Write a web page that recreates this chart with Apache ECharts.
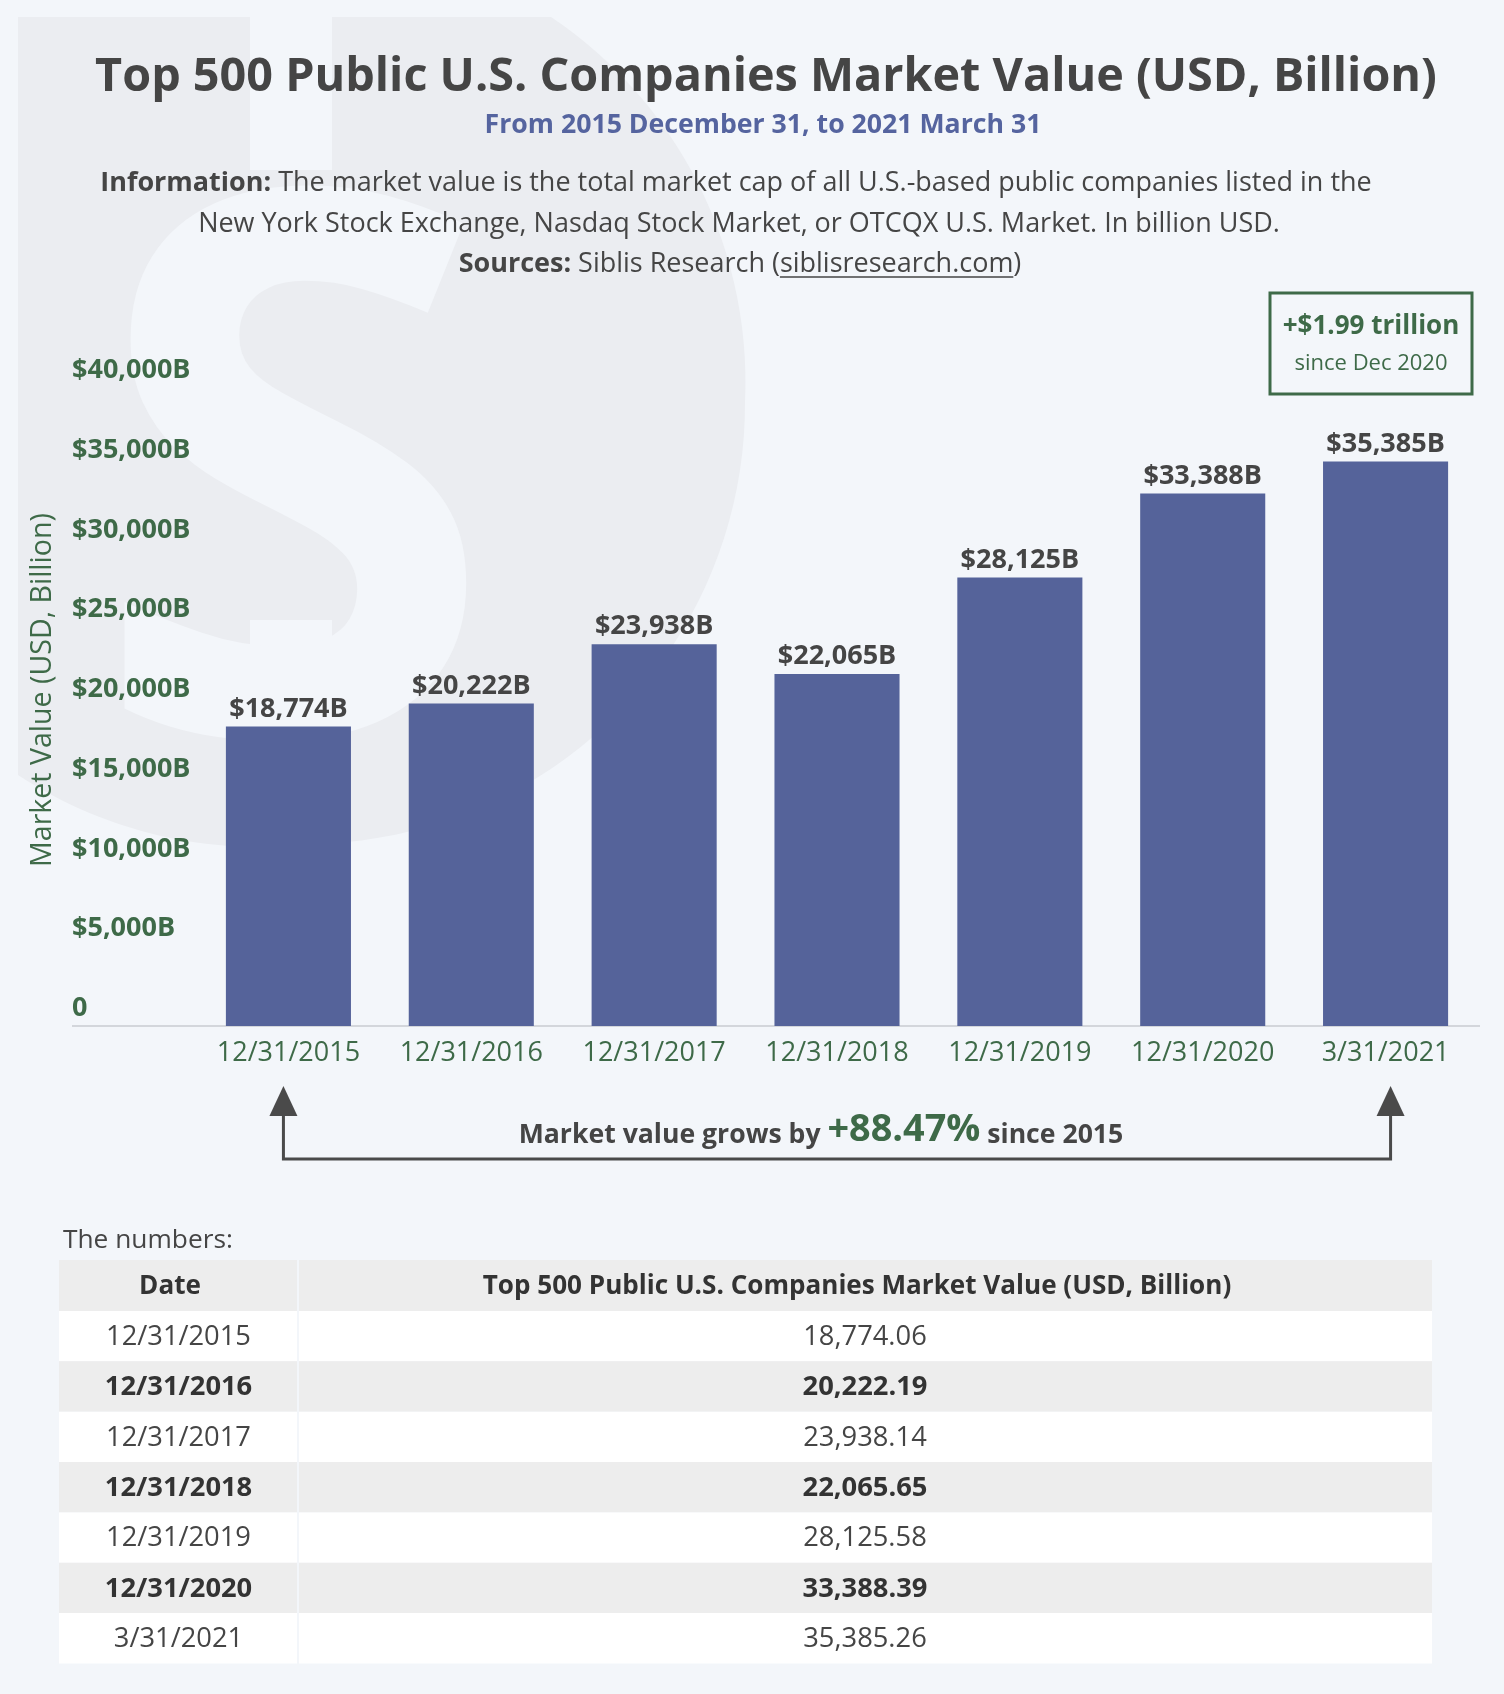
<!DOCTYPE html>
<html><head><meta charset="utf-8">
<script src="https://cdn.jsdelivr.net/npm/echarts@6/dist/echarts.min.js"></script>
<style>html,body{margin:0;padding:0;background:#f3f6fa}#c{width:1504px;height:1694px}</style>
</head><body><div id="c"></div>
<script>
// ---------- DATA ----------
const categories = ['12/31/2015','12/31/2016','12/31/2017','12/31/2018','12/31/2019','12/31/2020','3/31/2021'];
const marketValues = [18774.06, 20222.19, 23938.14, 22065.65, 28125.58, 33388.39, 35385.26];
const yTickValues = [0, 5000, 10000, 15000, 20000, 25000, 30000, 35000, 40000];
const tableHeaders = ['Date', 'Top 500 Public U.S. Companies Market Value (USD, Billion)'];
const titleText = 'Top 500 Public U.S. Companies Market Value (USD, Billion)';
const subtitleText = 'From 2015 December 31, to 2021 March 31';
const growthText = '+88.47%';
const boxLine1 = '+$1.99 trillion';
const boxLine2 = 'since Dec 2020';

// ---------- STYLE ----------
const FONT = '"Open Sans", "Noto Sans", sans-serif';
const BG = '#f3f6fa', WM = '#ebedf1', DARK = '#454545', GREEN = '#3e6a48', BLUE = '#55649f', BAR = '#55639a';
const ctx = document.createElement('canvas').getContext('2d');
function tw(t, size, weight){ ctx.font = (weight||'normal') + ' ' + size + 'px ' + FONT; return ctx.measureText(t).width; }
function fit(segs, target){ let w = 0; segs.forEach(s => w += tw(s.t, 100*(s.r||1), s.w)); return 100*target/w; }

const titleSize = fit([{t:titleText, w:'bold'}], 1342);
const subSize = fit([{t:subtitleText, w:'bold'}], 557);
const info1a = 'Information:', info1b = ' The market value is the total market cap of all U.S.-based public companies listed in the';
const info2 = 'New York Stock Exchange, Nasdaq Stock Market, or OTCQX U.S. Market. In billion USD.';
const src1 = 'Sources:', src2 = ' Siblis Research (', srcLink = 'siblisresearch.com', src3 = ')';
const infoSize = fit([{t:info1a,w:'bold'},{t:info1b,w:'normal'}], 1272);
const GR = 1.42;
const growA = 'Market value grows by ', growB = ' since 2015';
const growSize = fit([{t:growA,w:'bold'},{t:growthText,w:'bold',r:GR},{t:growB,w:'bold'}], 605);
const axisTitle = 'Market Value (USD, Billion)';
const axisTitleSize = fit([{t:axisTitle,w:'normal'}], 354);

const fmtBar = v => '$' + Math.floor(v).toLocaleString('en-US') + 'B';
const fmtTick = v => v === 0 ? '0' : '$' + v.toLocaleString('en-US') + 'B';
const fmtTable = v => v.toLocaleString('en-US', {minimumFractionDigits:2, maximumFractionDigits:2});

// arc sampler (clockwise on screen) for the watermark outline
function arcPts(p0, p1, r, n){
  const dx = p1[0]-p0[0], dy = p1[1]-p0[1], d = Math.hypot(dx, dy);
  const h = Math.sqrt(Math.max(0, r*r - d*d/4));
  const cx = (p0[0]+p1[0])/2 + h*(-dy)/d, cy = (p0[1]+p1[1])/2 + h*dx/d;
  let a0 = Math.atan2(p0[1]-cy, p0[0]-cx), a1 = Math.atan2(p1[1]-cy, p1[0]-cx);
  while (a1 < a0) a1 += 2*Math.PI;
  const out = [];
  for (let k = 1; k <= n; k++){ const a = a0 + (a1-a0)*k/n; out.push([cx + r*Math.cos(a), cy + r*Math.sin(a)]); }
  return out;
}
const wmPts = [[18,17],[551,17]]
  .concat(arcPts([551,17],[745,402],440,30))
  .concat(arcPts([745,402],[310,844],440,40))
  .concat(arcPts([310,844],[18,775],440,30));

const G = [];
// watermark
G.push({type:'polygon', id:'wm', z:-10, shape:{points:wmPts}, style:{fill:WM}});
G.push({type:'rect', id:'wms1', z:-9, shape:{x:250, y:0, width:82, height:170}, style:{fill:BG}});
G.push({type:'rect', id:'wms2', z:-9, shape:{x:250, y:620, width:82, height:200}, style:{fill:BG}});
G.push({type:'text', id:'wmd', z:-8, x:293, y:518, scaleX:0.97, style:{text:'S', fontSize:757, fontWeight:'bold', fontFamily:FONT, fill:BG, align:'center', verticalAlign:'middle'}});

// titles
G.push({type:'text', id:'t1', x:766, y:78, style:{text:titleText, fontSize:titleSize, fontWeight:'bold', fontFamily:FONT, fill:DARK, align:'center', verticalAlign:'middle'}});
G.push({type:'text', id:'t2', x:763, y:125, style:{text:subtitleText, fontSize:subSize, fontWeight:'bold', fontFamily:FONT, fill:BLUE, align:'center', verticalAlign:'middle'}});
const rich = {b:{fontWeight:'bold', fontSize:infoSize, fontFamily:FONT, fill:DARK}, n:{fontSize:infoSize, fontFamily:FONT, fill:DARK}};
G.push({type:'text', id:'i1', x:736, y:183, style:{text:'{b|'+info1a+'}{n|'+info1b+'}', rich, align:'center', verticalAlign:'middle'}});
G.push({type:'text', id:'i2', x:739, y:224, style:{text:'{n|'+info2+'}', rich, align:'center', verticalAlign:'middle'}});
G.push({type:'text', id:'i3', x:740, y:264, style:{text:'{b|'+src1+'}{n|'+src2+srcLink+src3+'}', rich, align:'center', verticalAlign:'middle'}});
{
  const w3 = tw(src1, infoSize, 'bold') + tw(src2+srcLink+src3, infoSize, 'normal');
  const x0 = 740 - w3/2 + tw(src1, infoSize, 'bold') + tw(src2, infoSize, 'normal');
  const x1 = x0 + tw(srcLink, infoSize, 'normal');
  G.push({type:'line', id:'ul', shape:{x1:x0, y1:277, x2:x1, y2:277}, style:{stroke:DARK, lineWidth:1.5}});
}
// callout box
G.push({type:'rect', id:'box', shape:{x:1270, y:293, width:202, height:101}, style:{fill:'none', stroke:GREEN, lineWidth:3}});
G.push({type:'text', id:'b1', x:1371, y:327, style:{text:boxLine1, fontSize:26, fontWeight:'bold', fontFamily:FONT, fill:GREEN, align:'center', verticalAlign:'middle'}});
G.push({type:'text', id:'b2', x:1371, y:364, style:{text:boxLine2, fontSize:22, fontFamily:FONT, fill:GREEN, align:'center', verticalAlign:'middle'}});
// axis title
G.push({type:'text', id:'yt', x:43, y:690, rotation:Math.PI/2, style:{text:axisTitle, fontSize:axisTitleSize, fontFamily:FONT, fill:GREEN, align:'center', verticalAlign:'middle'}});
// baseline
G.push({type:'line', id:'base', shape:{x1:72, y1:1026, x2:1480, y2:1026}, style:{stroke:'#d3d6db', lineWidth:2}});
// growth text
G.push({type:'text', id:'gr', x:821, y:1130, style:{text:'{a|'+growA+'}{g|'+growthText+'}{a|'+growB+'}', align:'center', verticalAlign:'middle',
  rich:{a:{fontSize:growSize, fontWeight:'bold', fontFamily:FONT, fill:DARK, verticalAlign:'bottom', lineHeight:growSize*GR},
        g:{fontSize:growSize*GR, fontWeight:'bold', fontFamily:FONT, fill:GREEN, verticalAlign:'bottom', lineHeight:growSize*GR}}}});

// table
const tX0 = 59, tX1 = 1432, tDiv = 298, tTop = 1260, hH = 51, rH = 50.35;
const numSize = fit([{t:'The numbers:', w:'normal'}], 170);
G.push({type:'text', id:'tn', x:63, y:1240, style:{text:'The numbers:', fontSize:numSize, fontFamily:FONT, fill:DARK, align:'left', verticalAlign:'middle'}});
const cellSize = fit([{t:'12/31/2015', w:'normal'}], 145);
const hdrSize = fit([{t:tableHeaders[1], w:'bold'}], 749);
function row(i, y, h, bg, texts, bold, size, color, c1x, c2x){
  G.push({type:'rect', id:'r1_'+i, shape:{x:tX0, y:y, width:tDiv-tX0-1, height:h}, style:{fill:bg}});
  G.push({type:'rect', id:'r2_'+i, shape:{x:tDiv+1, y:y, width:tX1-tDiv-1, height:h}, style:{fill:bg}});
  G.push({type:'text', id:'c1_'+i, x:c1x, y:y+h/2+1, style:{text:texts[0], fontSize:size, fontWeight:bold?'bold':'normal', fontFamily:FONT, fill:color, align:'center', verticalAlign:'middle'}});
  G.push({type:'text', id:'c2_'+i, x:c2x, y:y+h/2+1, style:{text:texts[1], fontSize:size, fontWeight:bold?'bold':'normal', fontFamily:FONT, fill:color, align:'center', verticalAlign:'middle'}});
}
row('h', tTop, hH, '#ededed', tableHeaders, true, hdrSize, '#333333', 170, 857);
categories.forEach((c, i) => {
  const odd = i % 2 === 1;
  row(i, tTop + hH + i*rH, rH, odd ? '#ededed' : '#ffffff', [c, fmtTable(marketValues[i])], odd, cellSize, odd ? '#333333' : DARK, (tX0+tDiv)/2, (tDiv+tX1)/2);
});

const option = {
  backgroundColor: BG,
  animation: false,
  grid: {left: 197, right: 27, top: 388, bottom: 668},
  xAxis: {type:'category', data: categories, axisLine:{show:false}, axisTick:{show:false},
    axisLabel:{interval:0, color:GREEN, fontSize:27, fontFamily:FONT, margin:14}},
  yAxis: {type:'value', min:0, max:40000, interval:5000, splitLine:{show:false}, axisLine:{show:false}, axisTick:{show:false},
    axisLabel:{align:'left', margin:125, color:GREEN, fontSize:27, fontWeight:'bold', fontFamily:FONT, verticalAlign:'bottom', lineHeight:27, padding:[0,0,4,0],
      formatter: v => fmtTick(v)}},
  series: [{type:'bar', data: marketValues, barWidth:'68.4%', itemStyle:{color:BAR},
    label:{show:true, position:'top', distance:4, color:DARK, fontSize:27, fontWeight:'bold', fontFamily:FONT, formatter: p => fmtBar(p.value)}}],
  graphic: {elements: G}
};
const chart = echarts.init(document.getElementById('c'), null, {width:1504, height:1694});
chart.setOption(option);

// arrows anchored to first and last categories
const xa = chart.convertToPixel({xAxisIndex:0}, categories[0]) - 5;
const xb = chart.convertToPixel({xAxisIndex:0}, categories[categories.length-1]) + 5;
const AC = '#4a4a4a';
chart.setOption({graphic:{elements:[
  {type:'polyline', id:'arr', shape:{points:[[xa,1114],[xa,1159],[xb,1159],[xb,1114]]}, style:{stroke:AC, lineWidth:3, fill:'none'}},
  {type:'polygon', id:'ah1', shape:{points:[[xa,1086],[xa-14,1116],[xa+14,1116]]}, style:{fill:AC}},
  {type:'polygon', id:'ah2', shape:{points:[[xb,1086],[xb-14,1116],[xb+14,1116]]}, style:{fill:AC}}
]}});
</script></body></html>
